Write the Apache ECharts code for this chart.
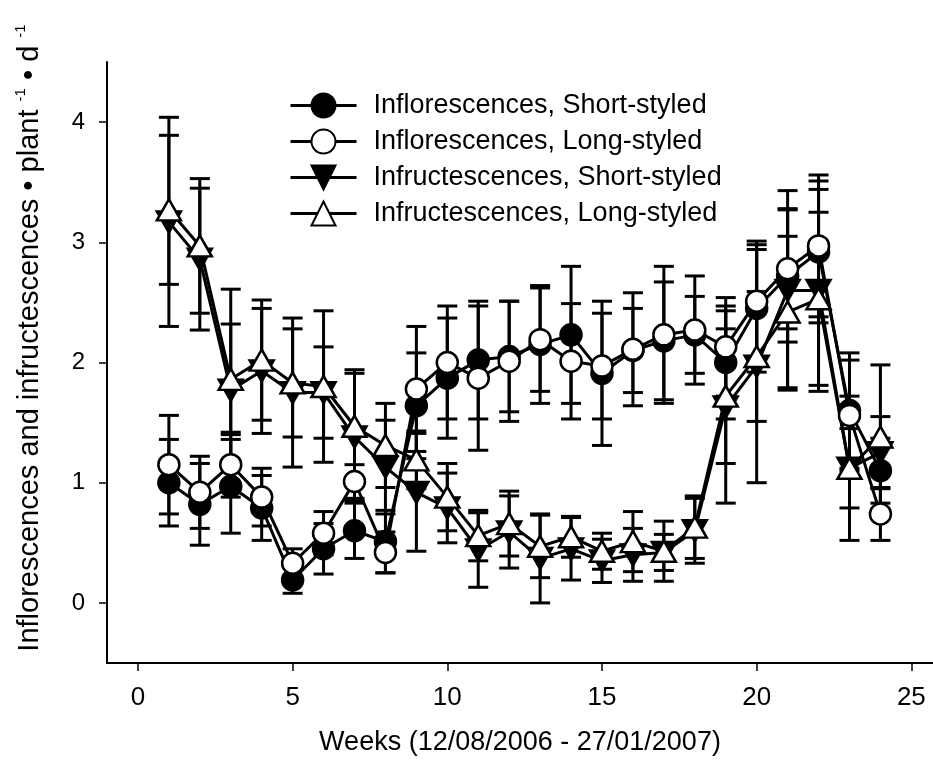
<!DOCTYPE html>
<html>
<head>
<meta charset="utf-8">
<script src="https://cdn.jsdelivr.net/npm/echarts@6/dist/echarts.min.js"></script>
<style>
html,body{margin:0;padding:0;background:#fff;}
#chart{width:933px;height:768px;}
</style>
</head>
<body>
<div id="chart"></div>
<script>
// ---- data ----
const weeks = [1,2,3,4,5,6,7,8,9,10,11,12,13,14,15,16,17,18,19,20,21,22,23,24];

const inflShort   = [1.00,0.82,0.97,0.79,0.19,0.45,0.60,0.51,1.64,1.87,2.02,2.05,2.15,2.23,1.91,2.10,2.18,2.23,2.00,2.45,2.72,2.92,1.60,1.10];
const inflShortSE = [0.36,0.34,0.39,0.27,0.11,0.21,0.23,0.26,0.44,0.50,0.49,0.46,0.49,0.57,0.60,0.35,0.49,0.32,0.47,0.53,0.55,0.59,0.48,0.27];

const inflLong    = [1.15,0.92,1.15,0.88,0.33,0.58,1.01,0.42,1.78,2.00,1.87,2.01,2.19,2.01,1.97,2.11,2.23,2.27,2.13,2.51,2.78,2.97,1.56,0.74];
const inflLongSE  = [0.41,0.30,0.27,0.24,0.12,0.18,0.14,0.17,0.52,0.47,0.60,0.50,0.43,0.48,0.44,0.47,0.57,0.45,0.41,0.50,0.50,0.59,0.46,0.22];

const fructShort   = [3.17,2.86,1.77,1.93,1.75,1.75,1.38,1.13,0.92,0.79,0.44,0.59,0.37,0.45,0.35,0.40,0.42,0.60,1.63,1.97,2.60,2.60,1.12,1.25];
const fructShortSE = [0.87,0.59,0.84,0.52,0.62,0.38,0.53,0.39,0.49,0.29,0.31,0.30,0.37,0.26,0.18,0.22,0.15,0.27,0.80,0.97,0.83,0.84,0.60,0.30];

const fructLong    = [3.27,2.97,1.86,2.02,1.83,1.80,1.47,1.31,1.19,0.88,0.56,0.66,0.47,0.55,0.43,0.51,0.43,0.63,1.72,2.05,2.42,2.53,1.12,1.38];
const fructLongSE  = [0.62,0.56,0.46,0.50,0.45,0.63,0.47,0.35,0.24,0.28,0.21,0.27,0.26,0.17,0.15,0.25,0.25,0.26,0.56,0.54,0.63,0.72,0.33,0.60];

const seriesNames = [
  'Inflorescences, Short-styled',
  'Inflorescences, Long-styled',
  'Infructescences, Short-styled',
  'Infructescences, Long-styled'
];
const xTicks = [0,5,10,15,20,25];
const yTicks = [0,1,2,3,4];
const xTitle = 'Weeks (12/08/2006 - 27/01/2007)';

// ---- build ----
const FONT = '"Liberation Sans", Arial, sans-serif';
const chart = echarts.init(document.getElementById('chart'), null, {renderer:'canvas'});

function pairs(vals, ses){ return weeks.map((w,i)=>[w, vals[i], ses[i]]); }

function errRender(params, api){
  const x = api.value(0), y = api.value(1), e = api.value(2);
  const top = api.coord([x, y + e]);
  const bot = api.coord([x, y - e]);
  const hw = 10;
  const st = {stroke:'#000', lineWidth:3};
  return {type:'group', children:[
    {type:'line', shape:{x1:top[0], y1:top[1], x2:bot[0], y2:bot[1]}, style:st},
    {type:'line', shape:{x1:top[0]-hw, y1:top[1], x2:top[0]+hw, y2:top[1]}, style:st},
    {type:'line', shape:{x1:bot[0]-hw, y1:bot[1], x2:bot[0]+hw, y2:bot[1]}, style:st}
  ]};
}

const defs = [
  {name:seriesNames[0], v:inflShort,  se:inflShortSE,  symbol:'circle',   size:21, fill:'#000', rot:0},
  {name:seriesNames[1], v:inflLong,   se:inflLongSE,   symbol:'circle',   size:21, fill:'#fff', rot:0},
  {name:seriesNames[2], v:fructShort, se:fructShortSE, symbol:'triangle', size:[24,21], fill:'#000', rot:180},
  {name:seriesNames[3], v:fructLong,  se:fructLongSE,  symbol:'triangle', size:[24,21], fill:'#fff', rot:0}
];

const series = [];
defs.forEach((d)=>{
  series.push({
    type:'custom', name:d.name + ' SE', renderItem:errRender,
    data:pairs(d.v, d.se), encode:{x:0, y:1}, silent:true
  });
  series.push({
    type:'line', name:d.name,
    data:weeks.map((w,i)=>[w, d.v[i]]),
    symbol:d.symbol, symbolSize:d.size, symbolRotate:d.rot,
    showAllSymbol:true,
    lineStyle:{color:'#000', width:3},
    itemStyle:{color:d.fill, borderColor:'#000', borderWidth:2.5},
    emphasis:{disabled:true}
  });
});

const option = {
  animation:false,
  backgroundColor:'#fff',
  textStyle:{fontFamily:FONT},
  grid:{left:107, right:0, top:62, bottom:105, containLabel:false},
  legend:{
    orient:'vertical', left:284, top:87,
    data:seriesNames,
    itemWidth:66, itemHeight:30, itemGap:9,
    lineStyle:{width:3, color:'#000'},
    textStyle:{fontSize:27, color:'#000', fontFamily:FONT, padding:[0,0,0,12], lineHeight:27},
    inactiveColor:'#000'
  },
  xAxis:{
    type:'value', min:-1, max:25.7,
    name:xTitle, nameLocation:'middle', nameGap:66,
    nameTextStyle:{fontSize:27, color:'#000', fontFamily:FONT},
    axisLine:{show:true, onZero:false, lineStyle:{color:'#000', width:2}},
    axisTick:{show:true, length:8, inside:false, lineStyle:{color:'#000', width:1.5}, customValues:xTicks},
    axisLabel:{fontSize:26, color:'#000', margin:22, fontFamily:FONT, customValues:xTicks},
    splitLine:{show:false}
  },
  yAxis:{
    type:'value', min:-0.5, max:4.5,
    axisLine:{show:true, onZero:false, lineStyle:{color:'#000', width:2}},
    axisTick:{show:true, length:8, inside:false, lineStyle:{color:'#000', width:1.5}, customValues:yTicks},
    axisLabel:{fontSize:24, color:'#000', margin:22, fontFamily:FONT, customValues:yTicks},
    splitLine:{show:false}
  },
  graphic:[{
    type:'text', x:30, y:338, rotation:Math.PI/2,
    style:{
      text:'{a|Inflorescences and infructescences • plant }{s|-1}{a| • d }{s|-1}',
      align:'center', verticalAlign:'middle', fill:'#000',
      rich:{
        a:{fontSize:29, fontFamily:FONT, fill:'#000', lineHeight:33},
        s:{fontSize:15, fontFamily:FONT, fill:'#000', verticalAlign:'top', lineHeight:33}
      }
    }
  }],
  series:series
};
chart.setOption(option);
</script>
</body>
</html>
